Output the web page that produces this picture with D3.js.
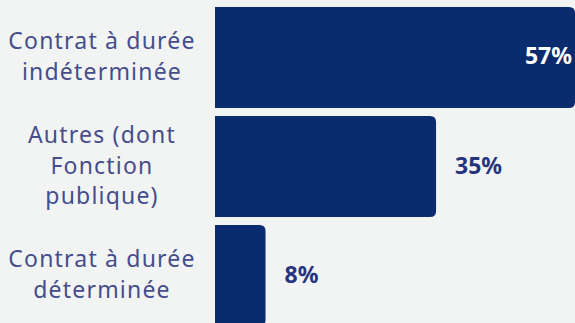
<!DOCTYPE html>
<html>
<head>
<meta charset="utf-8">
<script src="https://cdn.jsdelivr.net/npm/d3@7"></script>
<style>
  html, body { margin: 0; padding: 0; background: #f2f4f3; }
  svg { display: block; }
</style>
</head>
<body>
<svg id="chart" width="575" height="323"></svg>
<script>
// Répartition par type de contrat
const categories = [
  ["Contrat à durée", "indéterminée"],
  ["Autres (dont", "Fonction", "publique)"],
  ["Contrat à durée", "déterminée"]
];
const values = [57, 35, 8];
const valueLabels = ["57%", "35%", "8%"];

const W = 575, H = 323;
const svg = d3.select("#chart");

const x = d3.scaleLinear().domain([0, 57]).range([215, 575]);
const y = d3.scaleBand()
  .domain(d3.range(categories.length))
  .range([7, 326])
  .paddingInner(0.0734)
  .paddingOuter(0);

const barColor = "#0b2b6f";
const labelColor = "#454d8c";
const valueColor = "#27337d";
const r = 6;

// Bars: square on the left, rounded on the right
function barPath(x0, x1, y0, h) {
  const rr = Math.min(r, (x1 - x0) / 2, h / 2);
  return `M${x0},${y0} H${x1 - rr} Q${x1},${y0} ${x1},${y0 + rr} V${y0 + h - rr} Q${x1},${y0 + h} ${x1 - rr},${y0 + h} H${x0} Z`;
}

svg.selectAll("path.bar")
  .data(values)
  .join("path")
  .attr("class", "bar")
  .attr("fill", barColor)
  .attr("d", (d, i) => barPath(x(0), x(d), y(i), y.bandwidth()));

// Category labels (multi-line, centred)
const lineH = 30.5;
const cat = svg.selectAll("text.cat")
  .data(categories)
  .join("text")
  .attr("class", "cat")
  .attr("text-anchor", "middle")
  .attr("font-family", "'Noto Sans', sans-serif")
  .attr("font-size", 23)
  .attr("letter-spacing", 1.2)
  .attr("fill", labelColor);

cat.each(function(lines, i) {
  const cy = y(i) + y.bandwidth() / 2;
  d3.select(this).selectAll("tspan")
    .data(lines)
    .join("tspan")
    .attr("x", 102)
    .attr("y", (l, j) => cy + (j - (lines.length - 1) / 2) * lineH + 7)
    .text(l => l);
});

// Value labels: inside the bar when it is long enough, otherwise after it
svg.selectAll("text.val")
  .data(values)
  .join("text")
  .attr("class", "val")
  .attr("font-family", "'Noto Sans', sans-serif")
  .attr("font-weight", 700)
  .attr("font-size", 23)
  .attr("fill", (d, i) => d > 50 ? "#ffffff" : valueColor)
  .attr("text-anchor", (d) => d > 50 ? "end" : "start")
  .attr("x", (d) => d > 50 ? x(d) - 3 : x(d) + 19)
  .attr("y", (d, i) => y(i) + y.bandwidth() / 2 + 7)
  .text((d, i) => valueLabels[i]);
</script>
</body>
</html>
